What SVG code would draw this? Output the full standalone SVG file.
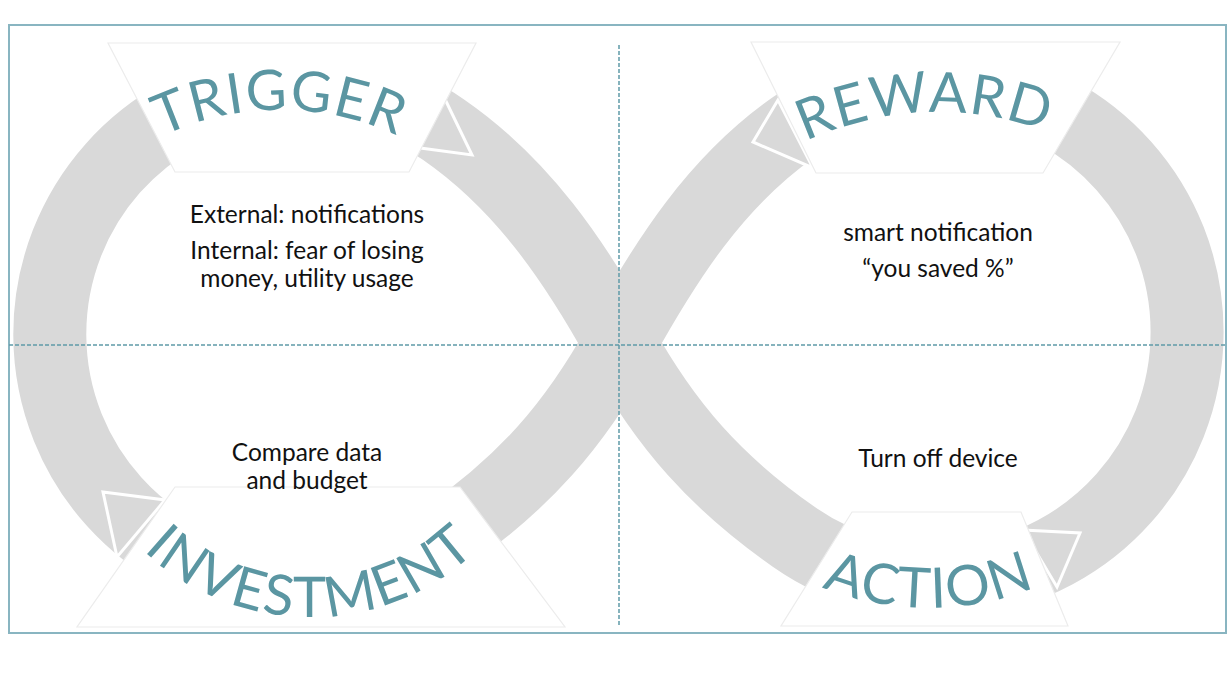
<svg xmlns="http://www.w3.org/2000/svg" width="1232" height="679" viewBox="0 0 1232 679">
  <style>
    .band { fill: none; stroke: #d9d9d9; stroke-width: 73; }
    .head { fill: #d9d9d9; stroke: #ffffff; stroke-width: 3; stroke-linejoin: miter; }
    .plate { fill: #ffffff; stroke: #ececec; stroke-width: 1.2; }
    .title { font-family: Lato, "Noto Sans", sans-serif; font-size: 56px; fill: #5b96a2; letter-spacing: 1.5px; }
    .body { font-family: Lato, "Noto Sans", sans-serif; font-size: 24.5px; fill: #111111; text-anchor: middle; }
    .grid { stroke: #5f9aa8; stroke-width: 1.5; stroke-dasharray: 4 2; fill: none; }
  </style>
  <defs>
    <!-- baselines for the curved stage titles -->
    <path id="arcTrigger" d="M 40 248.5 A 277 277 0 0 1 520 248.5"/>
    <path id="arcReward" d="M 667 268.5 A 313 313 0 0 1 1209 268.5"/>
    <path id="arcInvestment" d="M 100.4 496 A 242 242 0 0 0 519.6 496"/>
    <path id="arcAction" d="M 684 466.5 A 283 283 0 0 0 1174 466.5"/>
  </defs>

  <rect x="0" y="0" width="1232" height="679" fill="#ffffff"/>
  <rect x="9" y="25" width="1217" height="608" fill="none" stroke="#89b5c1" stroke-width="2"/>

  <!-- infinity loop with its four arrowheads -->
  <g id="connectors">
    <path class="band" d="M 620 343 C 574 260 522 184 444 130 A 250 250 0 1 0 446 537 C 524 482.5 574 426 620 343 C 666 260 716 181.5 794 127 A 250 250 0 1 1 794 537 C 716 482.5 666 426 620 343 Z"/>
    <polygon class="head" points="443,95 413,147 472,155"/>
    <polygon class="head" points="778,100 753,142 813,168"/>
    <polygon class="head" points="103,492 165,500 117,557"/>
    <polygon class="head" points="1023,530 1080,533 1057,587"/>
  </g>

  <!-- quadrant guides -->
  <g id="guides">
    <line class="grid" x1="619" y1="45" x2="619" y2="627"/>
    <line class="grid" x1="9" y1="345" x2="1226" y2="345"/>
  </g>

  <g id="trigger">
    <polygon class="plate" points="108,43 476,43 409,172 175,172"/>
    <text class="title"><textPath href="#arcTrigger" startOffset="50%" text-anchor="middle">TRIGGER</textPath></text>
    <text class="body" x="307" y="223">External: notifications</text>
    <text class="body" x="307" y="259">Internal: fear of losing</text>
    <text class="body" x="307" y="287">money, utility usage</text>
  </g>

  <g id="reward">
    <polygon class="plate" points="751,42 1120,42 1043,173 816,173"/>
    <text class="title"><textPath href="#arcReward" startOffset="48%" text-anchor="middle">REWARD</textPath></text>
    <text class="body" x="938" y="241">smart notification</text>
    <text class="body" x="938" y="277">“you saved %”</text>
  </g>

  <g id="investment">
    <polygon class="plate" points="175,487 460,487 565,627 77,627"/>
    <text class="title"><textPath href="#arcInvestment" startOffset="50%" text-anchor="middle">INVESTMENT</textPath></text>
    <text class="body" x="307" y="461">Compare data</text>
    <text class="body" x="307" y="489">and budget</text>
  </g>

  <g id="action">
    <polygon class="plate" points="852,512 1021,512 1068,626 781,626"/>
    <text class="title"><textPath href="#arcAction" startOffset="50%" text-anchor="middle">ACTION</textPath></text>
    <text class="body" x="938" y="467">Turn off device</text>
  </g>
</svg>
